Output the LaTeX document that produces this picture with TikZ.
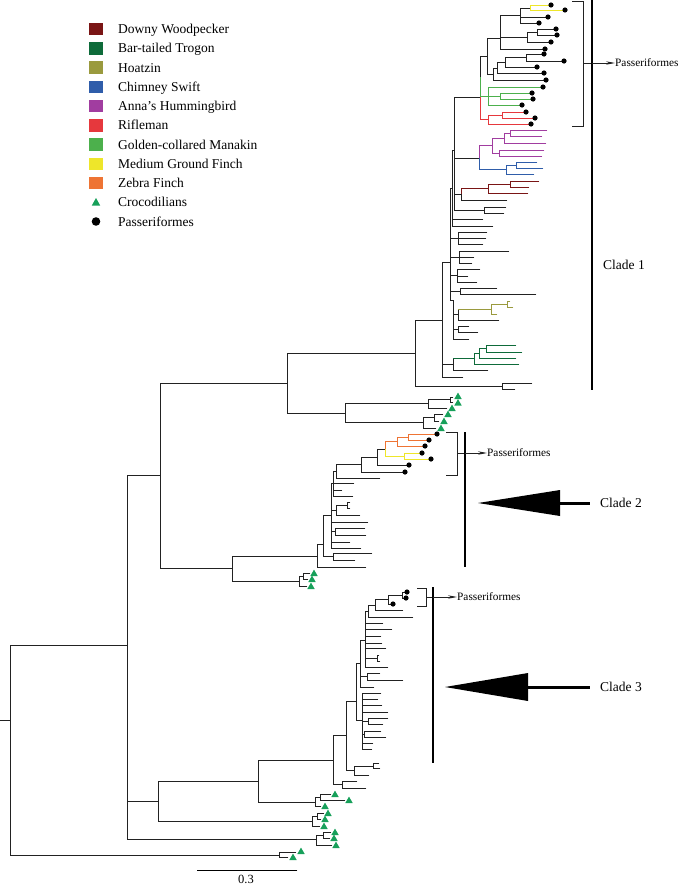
\documentclass[tikz,border=0pt]{standalone}
\usepackage{fontspec}
\setmainfont{Liberation Serif}
\usetikzlibrary{arrows.meta}
\definecolor{cdw}{HTML}{7A1515}
\definecolor{cbt}{HTML}{0E6B3A}
\definecolor{cho}{HTML}{9A9A3E}
\definecolor{ccs}{HTML}{2F5DAA}
\definecolor{cah}{HTML}{A13DA0}
\definecolor{crf}{HTML}{E6383D}
\definecolor{cgc}{HTML}{4CB04C}
\definecolor{cmg}{HTML}{EEE62A}
\definecolor{czf}{HTML}{EE7434}
\definecolor{ccr}{HTML}{17A05A}
\definecolor{ctr}{HTML}{222222}
\newcommand{\HB}[4][ctr]{\draw[tl,#1] (#2,#4) -- (#3,#4);}
\newcommand{\VB}[4][ctr]{\draw[tl,#1] (#2,#3) -- (#2,#4);}
\newcommand{\DT}[2]{\fill[black] (#1+2,#2) circle (2.6);}
\newcommand{\TR}[2]{\fill[ccr] (#1,#2-3.4) -- (#1+3.7,#2+3) -- (#1-3.7,#2+3) -- cycle;}
\begin{document}
\begin{tikzpicture}[x=1pt,y=-1pt,
  tl/.style={line width=0.85pt,line cap=rect},
  bar/.style={line width=2.6pt,black},
  brk/.style={line width=0.8pt,ctr},
  lbl/.style={font=\fontsize{13.5}{16}\selectfont,anchor=base west,inner sep=0pt},
  plbl/.style={font=\fontsize{11.3}{13}\selectfont,anchor=west,inner sep=0pt},
  sq/.style={minimum width=14pt,minimum height=12.5pt,inner sep=0pt}]
\useasboundingbox (0,0) rectangle (679,886);

% ---------- legend ----------
\foreach \c/\t [count=\i from 0] in {cdw/Downy Woodpecker,cbt/Bar-tailed Trogon,cho/Hoatzin,ccs/Chimney Swift,cah/Anna’s Hummingbird,crf/Rifleman,cgc/Golden-collared Manakin,cmg/Medium Ground Finch,czf/Zebra Finch}{
  \node[sq,fill=\c] (sq\i) at (95.5,{29+19.25*\i}) {};
  \node[lbl] (lt\i) at (118,{29+19.25*\i+4.6}) {\t};
}
\fill[ccr] (96,198) -- (100.2,205.5) -- (91.8,205.5) -- cycle;
\node[lbl] (ltcr) at (118,{202.25+4.6}) {Crocodilians};
\fill[black] (96,221.5) circle (4.3);
\node[lbl] (ltps) at (118,{221.5+4.6}) {Passeriformes};

% ---------- root ----------
\HB{0}{10}{720}
\VB{10}{645}{855}
\HB{10}{127}{645}
\HB{10}{279}{855}
\VB{279}{852}{857}
\HB{279}{296}{852}\TR{301}{851}
\HB{279}{288}{857}\TR{293}{857}

% ---------- node A ----------
\VB{127}{475}{839}
\HB{127}{160}{475}
\HB{127}{158}{801}
\HB{127}{316}{839}
\VB{316}{835}{845}
\HB{316}{323}{835}
\VB{323}{832}{838}
\HB{323}{331}{832}\TR{335}{832}
\HB{323}{330}{838}\TR{334}{838}
\HB{316}{332}{845}\TR{336}{845}
\VB{158}{781}{821}
\HB{158}{258}{781}
\HB{158}{312}{821}
\VB{312}{816}{826}
\HB{312}{317}{816}
\VB{317}{813}{819}
\HB{317}{324}{813}\TR{328}{813}
\HB{317}{321}{819}\TR{325}{819}
\HB{312}{320}{826}\TR{324}{826}
\VB{258}{760}{802}
\HB{258}{333}{760}
\HB{258}{315}{802}
\VB{315}{797}{806}
\HB{315}{320}{797}
\VB{320}{794}{800}
\HB{320}{331}{794}\TR{335}{794}
\HB{320}{345}{800}\TR{349}{800}
\HB{315}{321}{806}\TR{325}{806}

% ---------- clade 3 ----------
\VB{333}{735}{784.5}
\HB{333}{346}{735}
\HB{333}{342}{784.5}
\VB{342}{781}{788}
\HB{342}{357}{781}
\HB{342}{366}{788}
\VB{346}{701}{770.5}
\HB{346}{356}{701}
\HB{346}{354}{770.5}
\VB{354}{766}{775}
\HB{354}{373}{766}
\HB{354}{369}{775}
\VB{373}{763}{768}
\HB{373}{379}{763}
\HB{373}{380}{768}
\VB{356}{663}{720}
\HB{356}{360}{663}
\HB{356}{362}{720}
\VB{362}{693}{749}
\HB{362}{381}{693}
\HB{362}{378}{699}
\HB{362}{382}{705}
\HB{362}{388}{712}
\HB{362}{368}{721}
\HB{362}{364}{734}
\HB{362}{373}{743}
\HB{362}{372}{749}
\VB{368}{718}{724}
\HB{368}{388}{718}
\HB{368}{383}{724}
\VB{364}{731}{737}
\HB{364}{381}{731}
\HB{364}{386}{737}
\VB{360}{640}{687}
\HB{360}{365}{640}
\HB{360}{367}{676.5}
\HB{360}{374}{687}
\VB{367}{673}{680}
\HB{367}{380}{673}
\HB{367}{403}{680}
\VB{365}{611}{667}
\HB{365}{368}{611}
\HB{365}{383}{623}
\HB{365}{392}{629}
\HB{365}{381}{636}
\HB{365}{382}{643}
\HB{365}{386}{648}
\HB{365}{377}{658}
\HB{365}{388}{667}
\VB{377}{655}{661}
\HB{377}{379}{655}
\HB{377}{380}{661}
\VB{368}{605}{617}
\HB{368}{375}{605}
\HB{368}{413}{617}
\VB{375}{599.5}{610}
\HB{375}{388}{599.5}
\HB{375}{403}{610}
\VB{388}{595}{604}
\HB{388}{402}{595}
\HB{388}{391}{604}\DT{391}{604}
\VB{402}{592}{598}
\HB{402}{405}{592}\DT{405}{592}
\HB{402}{404}{598}\DT{404}{598}

% ---------- node A1 ----------
\VB{160}{383}{568}
\HB{160}{287}{383}
\HB{160}{232}{568}
\VB{232}{556}{581}
\HB{232}{317}{556}
\HB{232}{299}{581}
\VB{299}{576}{586}
\HB{299}{303}{576}
\VB{303}{573}{579}
\HB{303}{310}{573}\TR{314}{573}
\HB{303}{308}{579}\TR{312}{579}
\HB{299}{307}{586}\TR{311}{586}

% ---------- clade 2 ----------
\VB{317}{544}{567}
\HB{317}{323}{544}
\HB{317}{366}{567}
\VB{323}{515}{556}
\HB{323}{331}{515}
\HB{323}{333}{556}
\VB{333}{553}{560}
\HB{333}{372}{553}
\HB{333}{355}{560}
\VB{331}{483}{548}
\HB{331}{333}{483}
\HB{331}{336}{510}
\HB{331}{368}{522}
\HB{331}{335}{531.5}
\HB{331}{350}{542}
\HB{331}{361}{548}
\VB{335}{528}{535}
\HB{335}{365}{528}
\HB{335}{366}{535}
\VB{336}{505}{515}
\HB{336}{347}{505}
\HB{336}{360}{515}
\VB{347}{502}{508}
\HB{347}{350}{502}
\HB{347}{350}{508}
\VB{333}{471}{496}
\HB{333}{336}{471}
\HB{333}{354}{483}
\HB{333}{342}{490}
\HB{333}{353}{496}
\VB{336}{464}{478}
\HB{336}{361}{464}
\HB{336}{380}{478}
\VB{361}{457}{472}
\HB{361}{377}{457}
\HB{361}{403}{472}\DT{403}{472}
\VB{377}{449}{465}
\HB{377}{385}{449}
\HB{377}{407}{465}\DT{407}{465}
\VB[czf]{385}{441.5}{449}
\VB[cmg]{385}{449}{456}
\HB[czf]{385}{397}{441.5}
\HB[cmg]{385}{404}{456}
\VB[czf]{397}{437}{446}
\HB[czf]{397}{408}{437}
\HB[czf]{397}{423}{446}\DT{423}{446}
\VB[czf]{408}{434}{440}
\HB[czf]{408}{435}{434}\DT{435}{434}
\HB[czf]{408}{427}{440}\DT{427}{440}
\VB[cmg]{404}{453}{459}
\HB[cmg]{404}{420}{453}\DT{420}{453}
\HB[cmg]{404}{429}{459}\DT{429}{459}

% ---------- node X ----------
\VB{287}{353}{413}
\HB{287}{415}{353}
\HB{287}{345}{413}
\VB{345}{403.75}{422.75}
\HB{345}{428}{403.75}
\HB{345}{423}{422.75}
\VB{428}{399.5}{408}
\HB{428}{450}{399.5}
\HB{428}{447}{408}\TR{452}{408}
\VB{450}{397}{402}
\HB{450}{453}{397}\TR{458}{396}
\HB{450}{453}{402}\TR{458}{402.5}
\VB{423}{417.5}{428}
\HB{423}{434}{417.5}
\HB{423}{436}{428}\TR{441}{428}
\VB{434}{414}{421}
\HB{434}{443}{414}\TR{448}{414}
\HB{434}{439}{421}\TR{444}{421}

% ---------- clade 1 ----------
\VB{415}{320}{386}
\HB{415}{442}{320}
\HB{415}{502}{386}
\VB{502}{383}{389}
\HB{502}{532}{383}
\HB{502}{515}{389}
\VB{442}{262}{377}
\HB{442}{450}{262}
\HB{442}{453}{364}
\HB{442}{463}{377}
\VB{453}{358.5}{370}
\HB[cbt]{453}{474}{358.5}
\HB{453}{488}{370}
\VB[cbt]{474}{353}{364}
\HB[cbt]{474}{479}{353}
\HB[cbt]{474}{519}{364}
\VB[cbt]{479}{348.5}{358}
\HB[cbt]{479}{486}{348.5}
\HB[cbt]{479}{516}{358}
\VB[cbt]{486}{345}{352}
\HB[cbt]{486}{516}{345}
\HB[cbt]{486}{522}{352}
\VB{450}{188}{300}
\HB{450}{452}{188}
\HB{450}{458}{238}
\HB{450}{459}{257}
\HB{450}{457}{275}
\HB{450}{460}{291}
\HB{450}{453}{300}
\VB{453}{300}{339}
\HB{453}{458}{314}
\HB{453}{458}{329}
\HB{453}{469}{339}
\VB{458}{309}{320}
\HB[cho]{458}{491}{309}
\HB{458}{499}{320}
\VB[cho]{491}{304}{314}
\HB[cho]{491}{507}{304}
\HB[cho]{491}{497}{314}
\VB[cho]{507}{301}{307}
\HB[cho]{507}{510}{301}
\HB[cho]{507}{513}{307}
\VB{458}{326}{332}
\HB{458}{469}{326}
\HB{458}{478}{332}
\VB{458}{232}{244}
\HB{458}{487}{232}
\HB{458}{486}{238}
\HB{458}{483}{244}
\VB{459}{251}{263}
\HB{459}{509}{251}
\HB{459}{474}{257}
\HB{459}{472}{263}
\VB{457}{269}{282}
\HB{457}{480}{269}
\HB{457}{468}{276}
\HB{457}{477}{282}
\VB{460}{288}{294}
\HB{460}{497}{288}
\HB{460}{536}{294}
\VB{452}{150}{226}
\HB{452}{454}{150}
\HB{452}{483}{219}
\HB{452}{493}{226}
\VB{454}{97}{210}
\HB{454}{480}{97}
\HB{454}{479}{158}
\HB{454}{461}{194}
\HB{454}{484}{210}
\VB{484}{207}{213}
\HB{484}{506}{207}
\HB{484}{504}{213}
\VB[cdw]{461}{188.5}{194}
\VB{461}{194}{200}
\HB[cdw]{461}{488}{188.5}
\HB{461}{507}{200}
\VB[cdw]{488}{184}{193}
\HB[cdw]{488}{510}{184}
\HB[cdw]{488}{528}{193}
\VB[cdw]{510}{181}{187}
\HB[cdw]{510}{539}{181}
\HB[cdw]{510}{529}{187}
% hummingbird / swift
\VB[cah]{479}{145.5}{158}
\VB[ccs]{479}{158}{169.5}
\HB[cah]{479}{492}{145.5}
\HB[ccs]{479}{506}{169.5}
\VB[cah]{492}{138}{153}
\HB[cah]{492}{504}{138}
\HB[cah]{492}{499}{153}
\VB[cah]{504}{133}{143}
\HB[cah]{504}{510}{133}
\HB[cah]{504}{546}{143}
\VB[cah]{510}{130}{136}
\HB[cah]{510}{547}{130}
\HB[cah]{510}{542}{136}
\VB[cah]{499}{150}{156}
\HB[cah]{499}{544}{150}
\HB[cah]{499}{542}{156}
\VB[ccs]{506}{165}{174}
\HB[ccs]{506}{516}{165}
\HB[ccs]{506}{534}{174}
\VB[ccs]{516}{162}{168}
\HB[ccs]{516}{537}{162}
\HB[ccs]{516}{543}{168}
% passerine block
\VB{480}{56}{77}
\VB[cgc]{480}{77}{97}
\VB[crf]{480}{97}{119.5}
\HB{480}{487}{56}
\HB[cgc]{480}{488}{96}
\HB[crf]{480}{488}{119.5}
\VB[crf]{488}{115}{124}
\HB[crf]{488}{502}{115}
\HB[crf]{488}{529}{124}\DT{529}{124}
\VB[crf]{502}{112}{118}
\HB[crf]{502}{524}{112}\DT{524}{112}
\HB[crf]{502}{533}{118}\DT{533}{118}
\VB[cgc]{488}{87}{105}
\HB[cgc]{488}{541}{87}\DT{541}{87}
\HB[cgc]{488}{500}{96}
\HB[cgc]{488}{520}{105}\DT{520}{105}
\VB[cgc]{500}{93}{99}
\HB[cgc]{500}{530}{93}\DT{530}{93}
\HB[cgc]{500}{531}{99}\DT{531}{99}
\VB{487}{38}{74}
\HB{487}{500}{38}
\HB{487}{493}{74}
\VB{493}{68}{80}
\HB{493}{497}{68}
\HB{493}{544}{80}\DT{544}{80}
\VB{497}{62}{73}
\HB{497}{505}{62}
\HB{497}{542}{73}\DT{542}{73}
\VB{505}{57}{67}
\HB{505}{526}{57}
\HB{505}{535}{67}\DT{535}{67}
\VB{526}{54}{61}
\HB{526}{542}{54}\DT{542}{54}
\HB{526}{562}{61}\DT{562}{61}
\VB{500}{15}{49}
\HB{500}{520}{15}
\HB{500}{527}{37}
\HB{500}{543}{49}\DT{543}{49}
\VB{527}{32}{42}
\HB{527}{537}{32}
\HB{527}{549}{42}\DT{549}{42}
\VB{537}{29}{35}
\HB{537}{554}{29}\DT{554}{29}
\HB{537}{555}{35}\DT{555}{35}
\VB{520}{8}{23}
\HB{520}{530}{8}
\HB{520}{546}{17}\DT{546}{17}
\HB{520}{537}{23}\DT{537}{23}
\VB[cmg]{530}{5}{10}
\HB[cmg]{530}{549}{5}\DT{549}{5}
\HB[cmg]{530}{563}{10}\DT{563}{10}

% ---------- clade annotations ----------
\draw[brk] (572,1) -- (583,1) -- (583,126) -- (572,126);
\draw[brk] (583,63) -- (592,63);
\draw[bar] (592,0) -- (592,390);
\coordinate (pa1) at (592,63);
\node[plbl] (pl1) at (615,63) {Passeriformes};
\draw[brk,-{Stealth[length=9pt,width=3.4pt]}] (pa1) -- (pl1.west);
\node[lbl] (cl1) at (603,{265+4.6}) {Clade 1};

\draw[brk] (446,432) -- (457,432) -- (457,475) -- (446,475);
\draw[brk] (457,453) -- (465,453);
\draw[bar] (465,432) -- (465,567);
\coordinate (pa2) at (465,453);
\node[plbl] (pl2) at (487,453) {Passeriformes};
\draw[brk,-{Stealth[length=9pt,width=3.4pt]}] (pa2) -- (pl2.west);
\fill (478,503) -- (560,490) -- (560,516) -- cycle;
\draw[line width=3pt] (559,503) -- (590,503);
\node[lbl] (cl2) at (600,{503+4.6}) {Clade 2};

\draw[brk] (417,588) -- (426,588) -- (426,606) -- (417,606);
\draw[brk] (426,597) -- (433,597);
\draw[bar] (433,587) -- (433,763);
\coordinate (pa3) at (433,597);
\node[plbl] (pl3) at (457,597) {Passeriformes};
\draw[brk,-{Stealth[length=9pt,width=3.4pt]}] (pa3) -- (pl3.west);
\fill (445,687) -- (528,673) -- (528,701) -- cycle;
\draw[line width=3pt] (527,687) -- (590,687);
\node[lbl] (cl3) at (600,{687+4.6}) {Clade 3};

% ---------- scale ----------
\draw[tl] (197,870) -- (297,870);
\node[font=\fontsize{12.5}{14}\selectfont,anchor=base,inner sep=0pt] (sc) at (246,883) {0.3};
\end{tikzpicture}
\end{document}
